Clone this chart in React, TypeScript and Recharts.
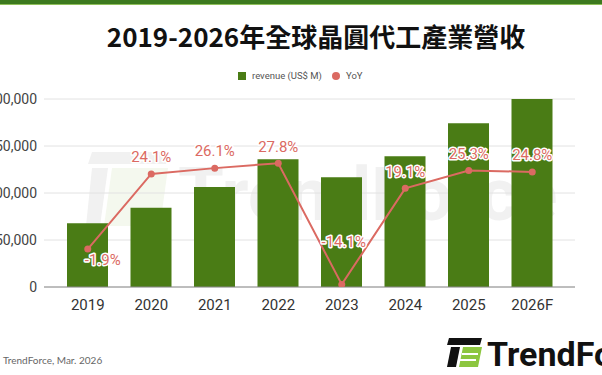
import React from 'react';
import { ComposedChart, Bar, Line, XAxis, YAxis, CartesianGrid } from 'recharts';

const years = ['2019', '2020', '2021', '2022', '2023', '2024', '2025', '2026F'];
const revenue = [67800, 84400, 106400, 136000, 116800, 139100, 174300, 217500];
const yoy = [-1.9, 24.1, 26.1, 27.8, -14.1, 19.1, 25.3, 24.8];
const revenueTicks = [0, 50000, 100000, 150000, 200000];
const yoyDomain = [-15, 50];

const TITLE = '2019-2026年全球晶圓代工產業營收';
const SOURCE = 'TrendForce, Mar. 2026';
const LEGEND_REVENUE = 'revenue (US$ M)';
const LEGEND_YOY = 'YoY';

const GREEN = '#4a7c15';
const RED = '#db6a62';
const FONT = 'Roboto, "Noto Sans", sans-serif';

const data = years.map((y, i) => ({ year: y, revenue: revenue[i], yoy: yoy[i] }));

const fmt = (v: number) => v.toLocaleString('en-US');

const YoyLabel = (props: any) => {
  const { x, y, value, index } = props;
  let dx = 0;
  let dy = -11.7;
  if (index === 0) {
    dx = 15;
    dy = 16.3;
  } else if (value < -10) {
    dx = 2;
    dy = -37;
  }
  return (
    <text
      x={x + dx}
      y={y + dy}
      textAnchor="middle"
      fill={RED}
      stroke="#ffffff"
      strokeWidth={3}
      strokeLinejoin="round"
      paintOrder="stroke"
      fontSize={15}
      fontFamily={FONT}
    >
      {`${Number(value).toFixed(1)}%`}
    </text>
  );
};

export default function App() {
  return (
    <div
      style={{
        position: 'absolute',
        top: 0,
        left: 0,
        width: 602,
        height: 375,
        overflow: 'hidden',
        background: '#ffffff',
        fontFamily: FONT,
      }}
    >
      {/* top band */}
      <div style={{ position: 'absolute', top: 0, left: 0, width: 602, height: 4, background: '#3d7a1f' }} />
      <div style={{ position: 'absolute', top: 4, left: 0, width: 602, height: 1, background: '#8fbf5a' }} />

      {/* watermark */}
      <svg width={602} height={375} style={{ position: 'absolute', top: 0, left: 0 }}>
        <polygon points="92,152 170,152 166,164 88,164" fill="#f1f1f1" />
        <polygon points="92,168 108,168 100,226 86,226" fill="#f1f1f1" />
        <polygon points="112,168 168,168 160,226 104,226" fill="#f4f8ee" />
        <text x={178} y={220} fontSize={74} fontWeight={700} fill="#f1f1f1" fontFamily={FONT}>
          TrendForce
        </text>
      </svg>

      {/* title */}
      <div
        style={{
          position: 'absolute',
          top: 23,
          left: 0,
          width: 632,
          textAlign: 'center',
          fontFamily: '"Noto Sans CJK TC", "Noto Sans CJK SC", sans-serif',
          fontWeight: 700,
          fontSize: 26,
          lineHeight: '26px',
          color: '#111111',
          whiteSpace: 'nowrap',
        }}
      >
        {TITLE}
      </div>

      {/* legend */}
      <div style={{ position: 'absolute', top: 72, left: 238, width: 8, height: 8, background: GREEN }} />
      <div style={{ position: 'absolute', top: 70, left: 252, fontSize: 9.5, lineHeight: '12px', color: '#555555', whiteSpace: 'nowrap' }}>
        {LEGEND_REVENUE}
      </div>
      <div style={{ position: 'absolute', top: 72, left: 332, width: 8, height: 8, borderRadius: 4, background: RED }} />
      <div style={{ position: 'absolute', top: 70, left: 346, fontSize: 9.5, lineHeight: '12px', color: '#555555', whiteSpace: 'nowrap' }}>
        {LEGEND_YOY}
      </div>

      {/* chart */}
      <div style={{ position: 'absolute', top: 0, left: 0 }}>
        <ComposedChart
          width={602}
          height={375}
          data={data}
          margin={{ top: 99, right: 27, bottom: 58, left: 0 }}
          style={{ background: 'transparent' }}
        >
          <CartesianGrid yAxisId="left" vertical={false} stroke="#e2e2e2" strokeWidth={1} />
          <XAxis
            dataKey="year"
            height={30}
            padding={{ left: 12, right: 11 }}
            tickLine={false}
            tickSize={0}
            tickMargin={12}
            axisLine={{ stroke: '#8a8a8a', strokeWidth: 1 }}
            tick={{ fill: '#333333', fontSize: 15, fontFamily: FONT }}
            interval={0}
          />
          <YAxis
            yAxisId="left"
            width={44}
            domain={[0, 200000]}
            ticks={revenueTicks}
            allowDataOverflow
            tickFormatter={fmt}
            tickLine={false}
            tickSize={0}
            tickMargin={7}
            axisLine={false}
            tick={{ fill: '#444444', fontSize: 14, fontFamily: FONT }}
          />
          <YAxis yAxisId="right" orientation="right" hide domain={yoyDomain} allowDataOverflow />
          <Bar yAxisId="left" dataKey="revenue" fill={GREEN} barSize={41} isAnimationActive={false} />
          <Line
            yAxisId="right"
            dataKey="yoy"
            stroke={RED}
            strokeWidth={2}
            dot={{ r: 3.5, fill: RED, stroke: RED, strokeWidth: 0 }}
            activeDot={false}
            isAnimationActive={false}
            label={YoyLabel}
          />
        </ComposedChart>
      </div>

      {/* source */}
      <div style={{ position: 'absolute', top: 353, left: 3, fontSize: 10, lineHeight: '14px', color: '#666666', fontFamily: 'Lato, Roboto, sans-serif', whiteSpace: 'nowrap' }}>
        {SOURCE}
      </div>

      {/* logo */}
      <svg width={602} height={375} style={{ position: 'absolute', top: 0, left: 0, pointerEvents: 'none' }}>
        <polygon points="449,338 482,338 480,345 447,345" fill="#111111" />
        <polygon points="451,347 460,347 456,367 447,367" fill="#111111" />
        <polygon points="463,347 482,347 478,367 459,367" fill="#8cc63f" />
        <rect x={462} y={353} width={16} height={2} fill="#ffffff" />
        <rect x={460} y={359} width={16} height={2} fill="#ffffff" />
        <text x={487} y={366} fontSize={34} fontWeight={700} fill="#111111" fontFamily={FONT}>
          TrendForce
        </text>
      </svg>
    </div>
  );
}
